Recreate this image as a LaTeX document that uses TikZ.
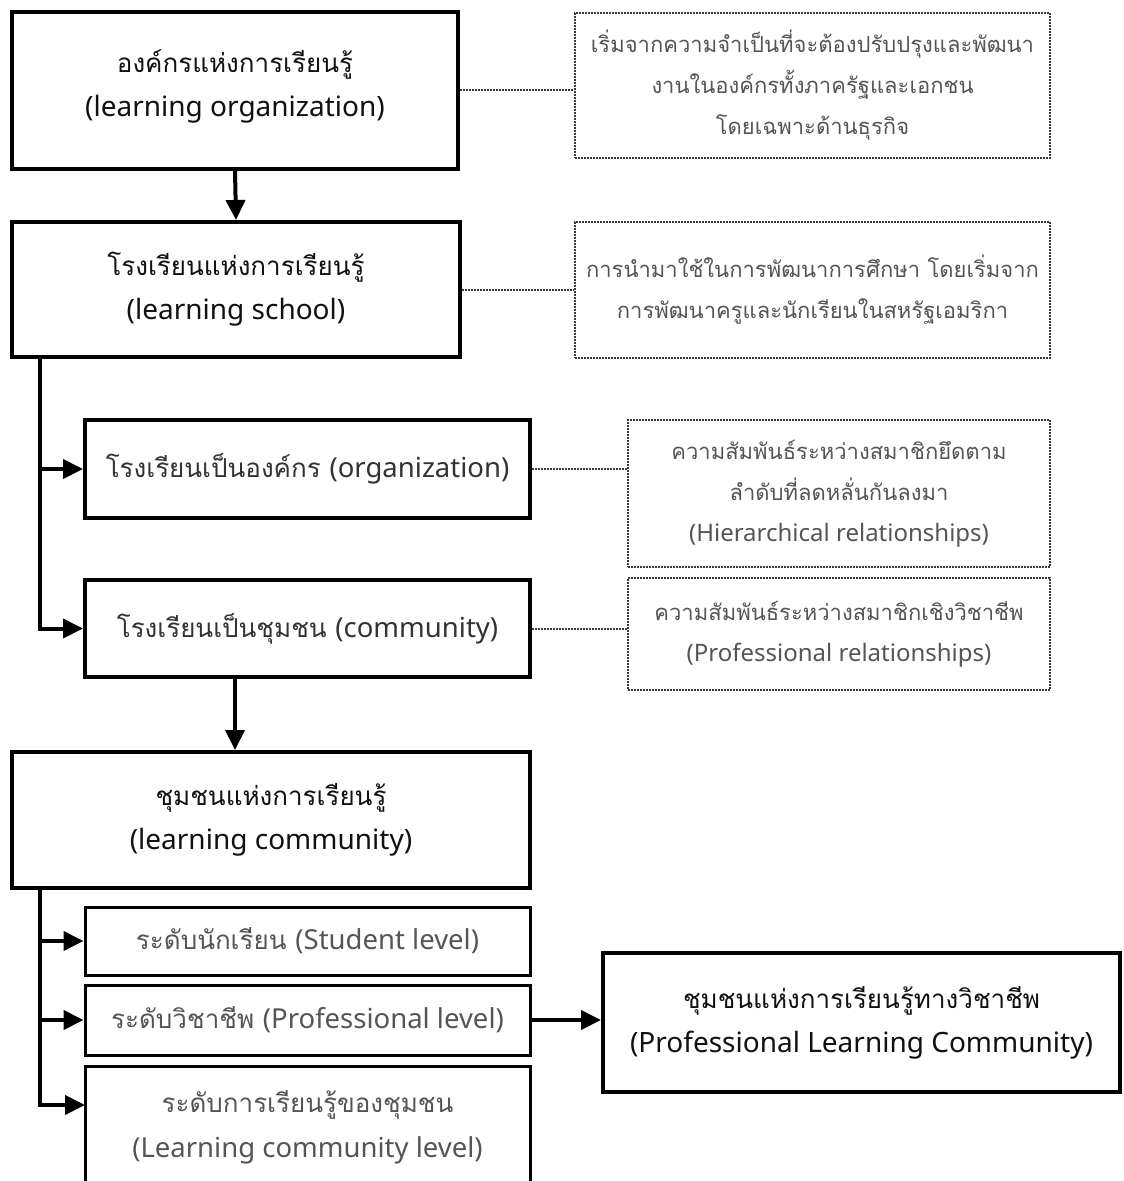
\documentclass[tikz,border=0pt]{standalone}
\usepackage{fontspec}
\setmainfont[Script=Thai]{Loma}
\newfontfamily\lat{Noto Sans}
\usetikzlibrary{arrows.meta}
\definecolor{txtA}{HTML}{111111}
\definecolor{txtB}{HTML}{333333}
\definecolor{txtC}{HTML}{555555}
\definecolor{dotc}{HTML}{3A3A3A}
\tikzset{
  mainbox/.style={draw=black, line width=4pt, align=center, text=txtA, inner sep=0pt,
     font=\fontsize{26}{44}\selectfont},
  midbox/.style={draw=black, line width=4pt, align=center, text=txtB, inner sep=0pt,
     font=\fontsize{26}{42}\selectfont},
  levelbox/.style={draw=black, line width=3pt, align=center, text=txtC, inner sep=0pt,
     font=\fontsize{26}{45}\selectfont},
  notebox/.style={draw=dotc, line width=2pt, dash pattern=on 2pt off 1pt, align=center,
     text=txtC, inner sep=0pt, font=\fontsize{22}{41}\selectfont},
  link/.style={draw=dotc, line width=2pt, dash pattern=on 2pt off 1pt},
  flow/.style={draw=black, line width=4pt, -{Triangle[length=20pt,width=19pt]}},
}
\newcommand{\la}[1]{{\lat\fontsize{28}{44}\selectfont #1}}
\newcommand{\lb}[1]{{\lat\fontsize{27.5}{42}\selectfont #1}}
\newcommand{\lc}[1]{{\lat\fontsize{24}{41}\selectfont #1}}
\begin{document}
\begin{tikzpicture}[x=1pt,y=-1pt]
\clip (0,0) rectangle (1124,1181);
\fill[white] (0,0) rectangle (1124,1181);
% main column
\node[mainbox, minimum width=446pt, minimum height=157pt] (b1) at (235,90)
  {};
\node[mainbox, draw=none] (b1t) at (235,86) {องค์กรแห่งการเรียนรู้\\\la{(learning organization)}};
\node[mainbox, minimum width=448pt, minimum height=135pt] (b2) at (236,289.5)
  {โรงเรียนแห่งการเรียนรู้\\\la{(learning school)}};
\node[midbox, minimum width=445pt, minimum height=98pt] (b3) at (307.5,469)
  {โรงเรียนเป็นองค์กร \lb{(organization)}};
\node[midbox, minimum width=445pt, minimum height=97pt] (b4) at (307.5,628.5)
  {โรงเรียนเป็นชุมชน \lb{(community)}};
\node[mainbox, minimum width=518pt, minimum height=136pt] (b5) at (271,820)
  {ชุมชนแห่งการเรียนรู้\\\la{(learning community)}};
\node[levelbox, minimum width=445pt, minimum height=68pt] (b6) at (307.5,941)
  {ระดับนักเรียน \lb{(Student level)}};
\node[levelbox, minimum width=445pt, minimum height=70pt] (b7) at (307.5,1020)
  {ระดับวิชาชีพ \lb{(Professional level)}};
\node[levelbox, minimum width=445pt, minimum height=140pt, anchor=north] (b8) at (307.5,1065)
  {};
\node[levelbox, draw=none, align=center] (b8t) at (307.5,1127)
  {ระดับการเรียนรู้ของชุมชน\\\lb{(Learning community level)}};
\node[mainbox, minimum width=517pt, minimum height=139pt] (b9) at (861.5,1022.5)
  {ชุมชนแห่งการเรียนรู้ทางวิชาชีพ\\\la{(Professional Learning Community)}};
% notes
\node[notebox, minimum width=475pt, minimum height=145pt] (nA) at (812.5,85.5)
  {เริ่มจากความจำเป็นที่จะต้องปรับปรุงและพัฒนา\\งานในองค์กรทั้งภาครัฐและเอกชน\\โดยเฉพาะด้านธุรกิจ};
\node[notebox, minimum width=475pt, minimum height=136pt] (nB) at (812.5,290)
  {การนำมาใช้ในการพัฒนาการศึกษา โดยเริ่มจาก\\การพัฒนาครูและนักเรียนในสหรัฐเอมริกา};
\node[notebox, minimum width=422pt, minimum height=147pt] (nC) at (839,493.5)
  {ความสัมพันธ์ระหว่างสมาชิกยึดตาม\\ลำดับที่ลดหลั่นกันลงมา\\\lc{(Hierarchical relationships)}};
\node[notebox, minimum width=422pt, minimum height=112pt] (nD) at (839,634)
  {ความสัมพันธ์ระหว่างสมาชิกเชิงวิชาชีพ\\\lc{(Professional relationships)}};
% dotted links
\draw[link] (b1.east) -- (b1.east -| nA.west);
\draw[link] (b2.east) -- (b2.east -| nB.west);
\draw[link] (b3.east) -- (b3.east -| nC.west);
\draw[link] (b4.east) -- (b4.east -| nD.west);
% flow arrows
\draw[flow] (b1.south) -- (b2.north);
\coordinate (c4) at (235,628.5);
\draw[flow] (c4 |- b4.south) -- (c4 |- b5.north);
\coordinate (sx) at (40,0);
\draw[draw=black, line width=4pt] (sx |- b2.south) -- (sx |- b4.west) -- ([xshift=-20pt]b4.west);
\draw[flow] (sx |- b3.west) -- (b3.west);
\draw[flow] ([xshift=-22pt]b4.west) -- (b4.west);
\coordinate (b8a) at (85,1105);
\draw[draw=black, line width=4pt] (sx |- b5.south) -- (sx |- b8a) -- ([xshift=-20pt]b8a);
\draw[flow] (sx |- b6.west) -- (b6.west);
\draw[flow] (sx |- b7.west) -- (b7.west);
\draw[flow] ([xshift=-22pt]b8a) -- (b8a);
\draw[flow] (b7.east) -- (b7.east -| b9.west);
\end{tikzpicture}
\end{document}
